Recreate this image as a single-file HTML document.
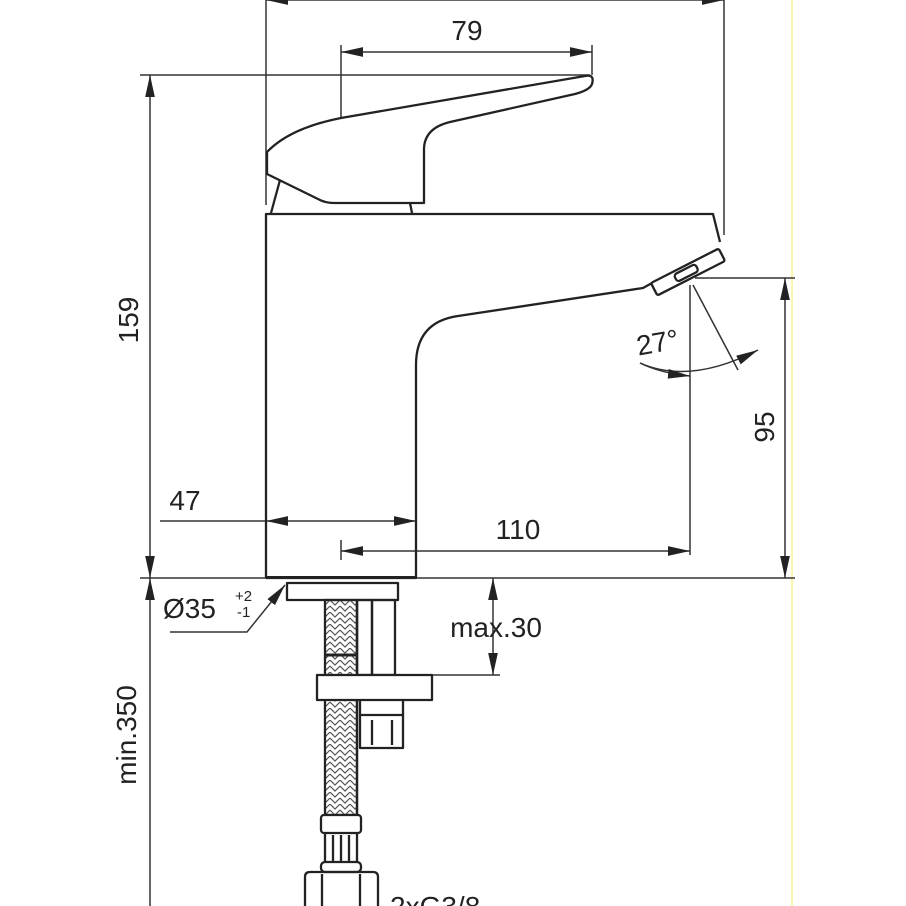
<!DOCTYPE html>
<html><head><style>
html,body{margin:0;padding:0;background:#fff;}
svg{display:block}
text{font-family:"Liberation Sans",sans-serif;fill:#222}
</style></head><body>
<svg width="906" height="906" viewBox="0 0 906 906" xmlns="http://www.w3.org/2000/svg">
<defs>
<marker id="b" viewBox="0 0 10 10" refX="10" refY="5" markerWidth="22" markerHeight="22" orient="auto-start-reverse" markerUnits="userSpaceOnUse"><path d="M0,2.8 L10,5 L0,7.2z" fill="#222"/></marker>
<pattern id="br" width="10" height="12" patternUnits="userSpaceOnUse"><path d="M0,0 L5,5 L10,0 M0,6 L5,11 L10,6" stroke="#555" stroke-width="1.2" fill="none"/></pattern>
</defs>
<rect x="791" y="0" width="2" height="906" fill="#fbf5b0"/>
<g stroke="#333" stroke-width="1.5" fill="none">
<line x1="266" y1="0" x2="266" y2="205"/>
<line x1="724" y1="0" x2="724" y2="235"/>
<line x1="341" y1="45" x2="341" y2="118"/>
<line x1="592" y1="45" x2="592" y2="75"/>
<line x1="140" y1="75" x2="590" y2="75"/>
<line x1="140" y1="578" x2="795" y2="578"/>
<line x1="695" y1="278" x2="795" y2="278"/>
<line x1="690" y1="285" x2="690" y2="555"/>
<line x1="341" y1="540" x2="341" y2="560"/>
<line x1="432" y1="675" x2="500" y2="675"/>
<line x1="160" y1="521" x2="266" y2="521"/>
<line x1="266" y1="0" x2="724" y2="0" marker-start="url(#b)" marker-end="url(#b)"/>
<line x1="341" y1="52" x2="592" y2="52" marker-start="url(#b)" marker-end="url(#b)"/>
<line x1="150" y1="75" x2="150" y2="578" marker-start="url(#b)" marker-end="url(#b)"/>
<line x1="266" y1="521" x2="416" y2="521" marker-start="url(#b)" marker-end="url(#b)"/>
<line x1="341" y1="551" x2="690" y2="551" marker-start="url(#b)" marker-end="url(#b)"/>
<line x1="785" y1="278" x2="785" y2="578" marker-start="url(#b)" marker-end="url(#b)"/>
<line x1="150" y1="578" x2="150" y2="906" marker-start="url(#b)"/>
<line x1="493" y1="578" x2="493" y2="675" marker-start="url(#b)" marker-end="url(#b)"/>
<polyline points="170,632 247,632 285,585" marker-end="url(#b)"/>
<line x1="693" y1="285" x2="738" y2="370"/>
<path d="M640,363 Q690,385 758,350" marker-end="url(#b)"/>
<path d="M640,363 Q660,373 690,376" marker-end="url(#b)"/>
</g>
<g stroke="#222" stroke-width="2.3" fill="none" stroke-linejoin="round">
<path d="M267,174 L267,152 Q290,128 341,118 L585,76 Q595,74 592,84 Q590,90 575,94 L450,122 Q425,128 424,148 L424,203 L334,203 Q325,203 318,199 Z"/>
<path d="M280,180 L271,213 M410,203 L412,213"/>
<path d="M266,578 L266,214 L713,214 L720,242"/>
<path d="M266,578 L416,578 L416,365 Q416,322 458,316 L643,288 L652,283"/>
<rect x="266" y="576" width="150" height="3" fill="#222" stroke="none"/>
<g transform="translate(688,272) rotate(-27)">
<rect x="-38" y="-7" width="76" height="14" rx="2"/>
<rect x="-14" y="-4" width="24" height="8" rx="3"/>
</g>
<rect x="287" y="583" width="111" height="17"/>
<rect x="325" y="600" width="32" height="215" fill="url(#br)"/>
<line x1="325" y1="655" x2="357" y2="655" stroke-width="3"/>
<line x1="357" y1="600" x2="357" y2="815"/>
<rect x="357" y="600" width="15" height="75"/>
<rect x="372" y="600" width="23" height="75"/>
<rect x="317" y="675" width="115" height="25" fill="#fff"/>
<path d="M360,700 L360,715 L403,715 L403,700"/>
<path d="M360,715 L360,748 L403,748 L403,715 M372,720 L372,745 M392,720 L392,745"/>
<rect x="321" y="815" width="40" height="18" rx="3" fill="#fff"/>
<path d="M325,833 L325,865 M357,833 L357,865 M333,835 L333,862 M341,835 L341,862 M349,835 L349,862"/>
<rect x="321" y="862" width="40" height="10" rx="4" fill="#fff"/>
<path d="M305,906 L305,877 Q305,872 310,872 L373,872 Q378,872 378,877 L378,906 M322,874 L322,906 M360,874 L360,906"/>
</g>
<g font-size="28">
<text x="467" y="40" text-anchor="middle">79</text>
<text x="185" y="510" text-anchor="middle">47</text>
<text x="518" y="539" text-anchor="middle">110</text>
<text x="496" y="637" text-anchor="middle">max.30</text>
<text x="163" y="618">Ø35</text>
<text x="235" y="601" font-size="15">+2</text>
<text x="237" y="617" font-size="15">-1</text>
<text x="658" y="352" text-anchor="middle" transform="rotate(-10 658 345)">27°</text>
<text transform="translate(138,320) rotate(-90)" text-anchor="middle">159</text>
<text transform="translate(774,427) rotate(-90)" text-anchor="middle">95</text>
<text transform="translate(136,735) rotate(-90)" text-anchor="middle">min.350</text>
<text x="390" y="916">2xG3/8</text>
</g>
</svg>
</body></html>
